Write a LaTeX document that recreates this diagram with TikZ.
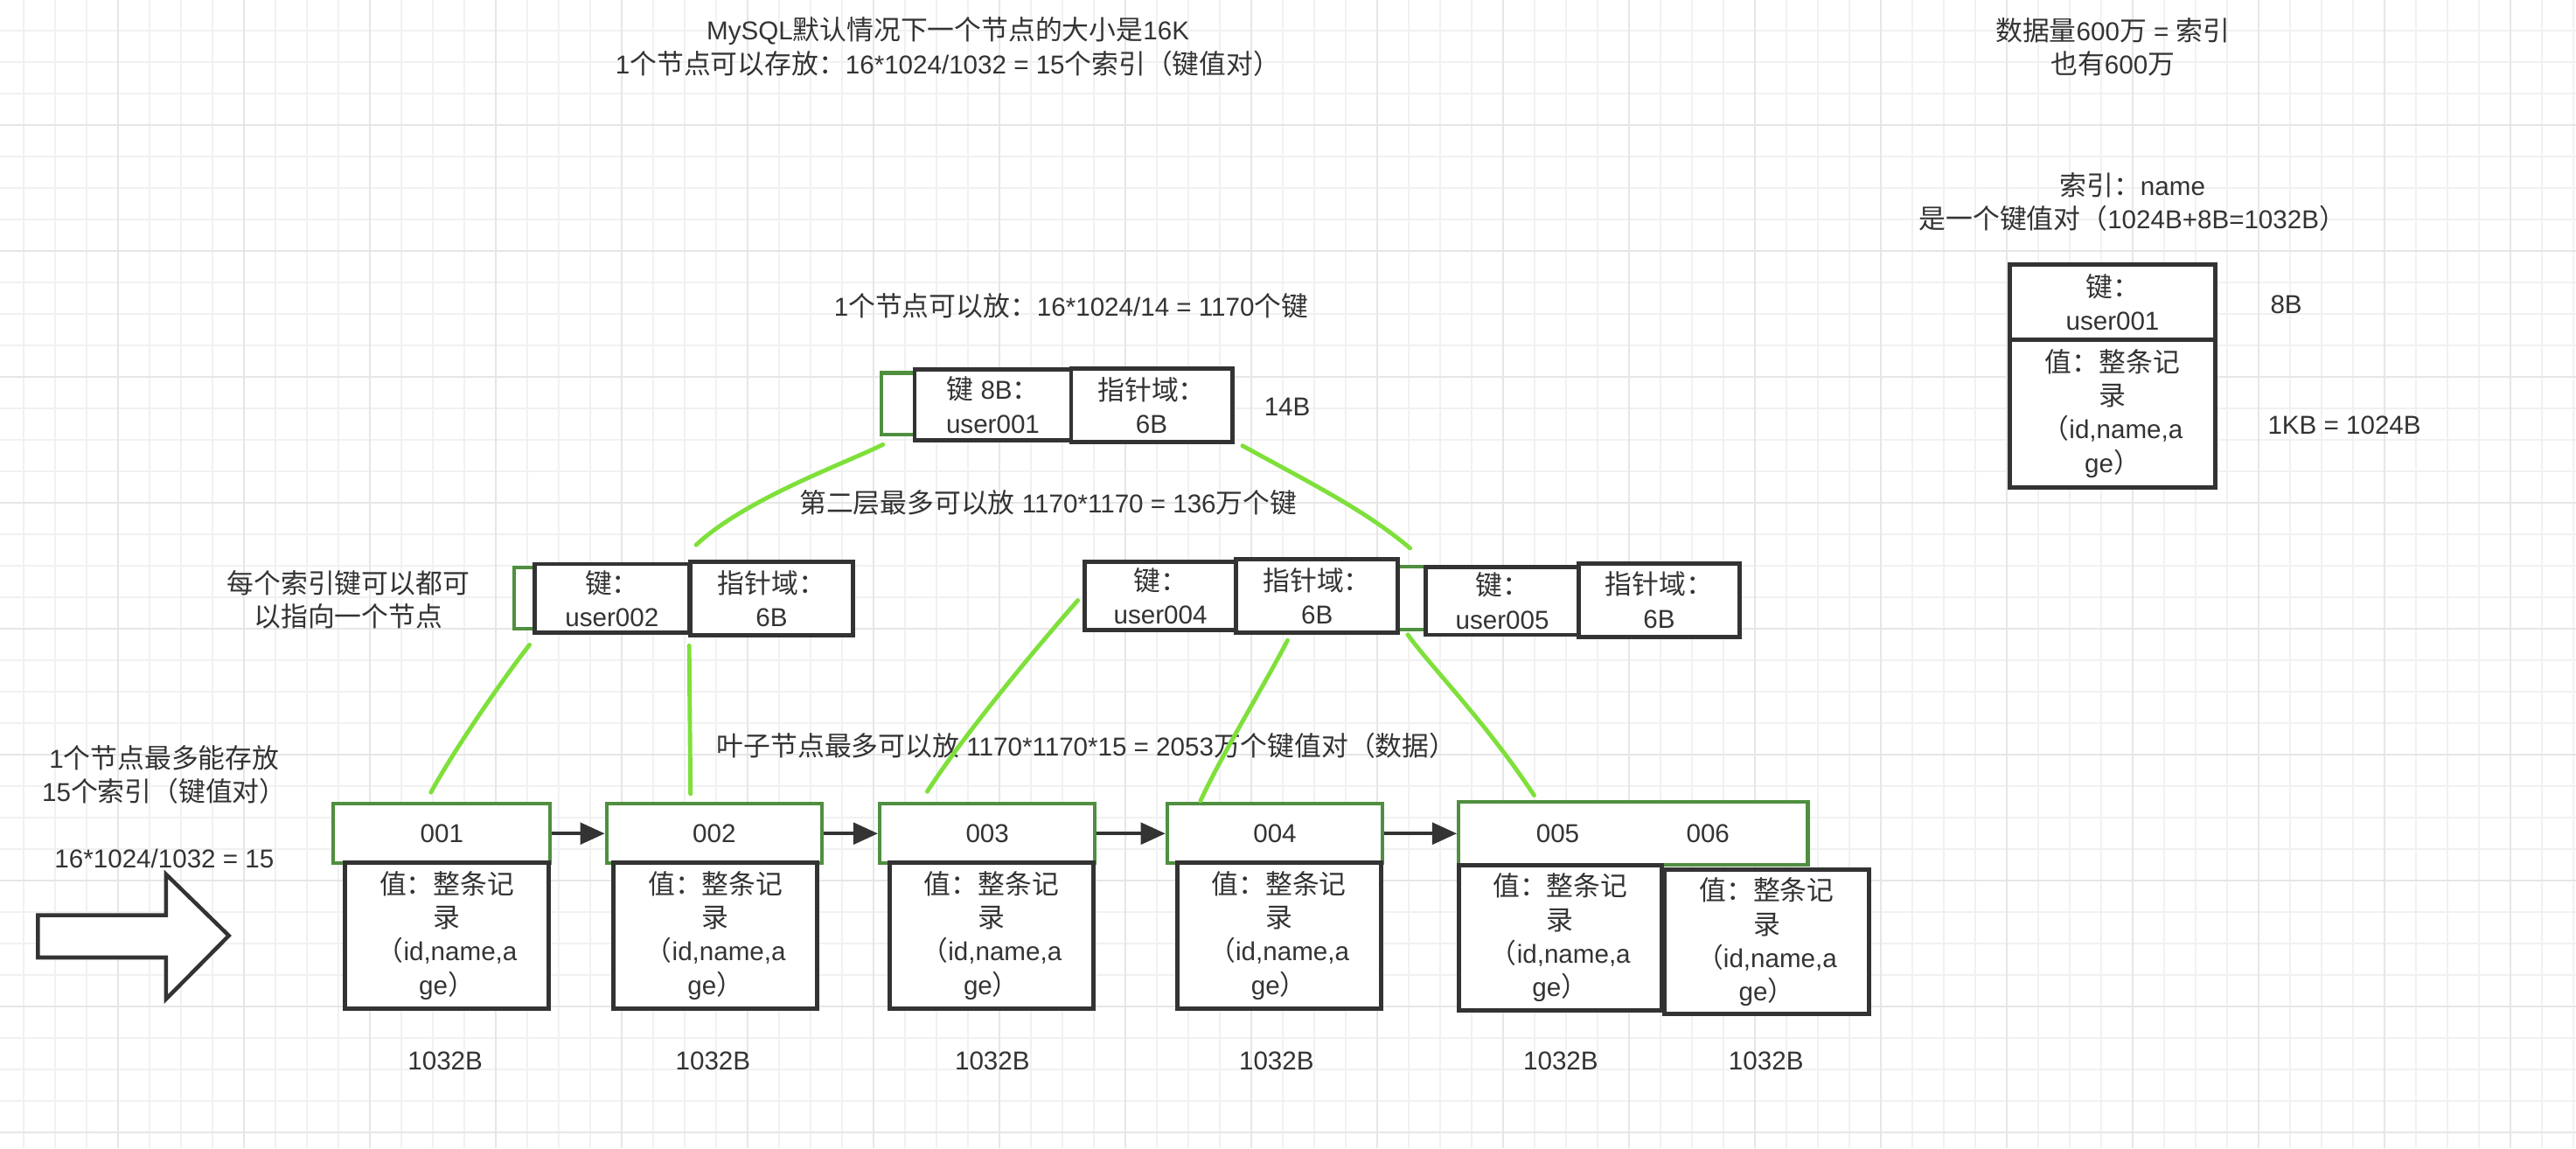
\documentclass[tikz,border=0pt]{standalone}
\usepackage{fontspec}
\setmainfont{Liberation Sans}[Scale=0.96]
\newfontfamily\latinfont{Liberation Sans}[Scale=0.96]
\newfontfamily\cjkfont{Noto Sans CJK SC}
\XeTeXinterchartokenstate=1
\newXeTeXintercharclass\cjkclass
\count255="3000
\loop \XeTeXcharclass\count255=\cjkclass \ifnum\count255<"303F \advance\count255 by 1 \repeat
\count255="4E00
\loop \XeTeXcharclass\count255=\cjkclass \ifnum\count255<"9FFF \advance\count255 by 1 \repeat
\count255="FF00
\loop \XeTeXcharclass\count255=\cjkclass \ifnum\count255<"FFEF \advance\count255 by 1 \repeat
\XeTeXinterchartoks 0 \cjkclass = {\cjkfont}
\XeTeXinterchartoks 4095 \cjkclass = {\cjkfont}
\XeTeXinterchartoks \cjkclass 0 = {\latinfont}
\XeTeXinterchartoks \cjkclass 4095 = {\latinfont}
\usepackage{xcolor}
\usepackage{tikz}
\usetikzlibrary{arrows.meta,calc}
\definecolor{boxgray}{HTML}{333333}
\definecolor{txtgray}{HTML}{333333}
\definecolor{grnedge}{HTML}{4F8F3F}
\definecolor{linkgrn}{HTML}{7EE03A}
\definecolor{gridminor}{HTML}{F1F1F1}
\definecolor{gridmajor}{HTML}{E6E6E6}
\newcommand{\rowtext}{值：整条记\\录\\（id,name,a\\ge）}
\tikzset{
  keybox/.style={draw=boxgray, line width=2.6pt, fill=white, inner sep=0pt, align=center},
  grnbox/.style={draw=grnedge, line width=2.2pt, fill=white, inner sep=0pt},
  link/.style={draw=linkgrn, line width=2.6pt, line cap=round},
  nextptr/.style={draw=boxgray, line width=2.4pt, -{Triangle[length=15pt,width=13pt]}},
  note/.style={inner sep=0pt, align=center}
}

\begin{document}
\begin{tikzpicture}[x=1pt, y=-1pt, every node/.style={font=\fontsize{16.4}{20.4}\selectfont, text=txtgray}]
\useasboundingbox (0,0) rectangle (1568,699);
\fill[white] (0,0) rectangle (1568,699);
\foreach \i in {0,...,81} \draw[gridminor, line width=1pt] ({14.4+19.16*\i},0) -- ++(0,699);
\foreach \j in {0,...,36} \draw[gridminor, line width=1pt] (0,{-0.5+19.16*\j}) -- ++(1568,0);
\foreach \i in {0,...,20} \draw[gridmajor, line width=1.4pt] ({-4.74+76.64*\i},0) -- ++(0,699);
\foreach \j in {0,...,9} \draw[gridmajor, line width=1.4pt] (0,{-0.5+76.64*\j}) -- ++(1568,0);

\node[note] (title) at (577,28.5) {MySQL默认情况下一个节点的大小是16K\\1个节点可以存放：16*1024/1032 = 15个索引（键值对）};
\node[note] (total) at (1286,28.8) {数据量600万 = 索引\\也有600万};
\node[note] (idxname) at (1298,123) {索引：name\\是一个键值对（1024B+8B=1032B）};

\node[keybox, minimum width=124.8, minimum height=45.6] (pairkey) at (1285.9,183.9) {键：\\user001};
\node[keybox, minimum width=124.8, minimum height=89.9] (pairval) at (1285.9,251.65) {\rowtext};
\node[note] (keysize) at (1391.6,185.4) {8B};
\node[note] (kbsize) at (1427,259) {1KB = 1024B};

\node[note] (rootnote) at (652,186) {1个节点可以放：16*1024/14 = 1170个键};
\node[grnbox, minimum width=28.5, minimum height=37.5] (rootgrn) at (550.75,245.75) {};
\node[keybox, minimum width=95.3, minimum height=43] (rootkey) at (604.35,246.5) {键 8B：\\user001};
\node[keybox, minimum width=98, minimum height=44.5] (rootptr) at (701,246.75) {指针域：\\6B};
\node[note] (rootsize) at (783.5,247.5) {14B};

\node[note] (lvlnote) at (638,306) {第二层最多可以放 1170*1170 = 136万个键};
\node[note] (ptrnote) at (212,365) {每个索引键可以都可\\以指向一个节点};

\node[grnbox, minimum width=22.2, minimum height=37.2] (agrn) at (323.9,364.1) {};
\node[keybox, minimum width=94, minimum height=42] (akey) at (372.5,364.3) {键：\\user002};
\node[keybox, minimum width=99.4, minimum height=44.7] (aptr) at (469.7,364.35) {指针域：\\6B};

\node[grnbox, minimum width=38, minimum height=38.2] (bgrn) at (859,364.1) {};
\node[keybox, minimum width=92.4, minimum height=41.6] (bkey) at (706.3,362.8) {键：\\user004};
\node[keybox, minimum width=98.3, minimum height=44.7] (bptr) at (801.65,362.95) {指针域：\\6B};
\node[keybox, minimum width=93.1, minimum height=41.4] (ckey) at (914.45,365.7) {键：\\user005};
\node[keybox, minimum width=97.8, minimum height=44.6] (cptr) at (1009.9,365.3) {指针域：\\6B};

\node[note] (leafnote) at (661.4,454) {叶子节点最多可以放 1170*1170*15 = 2053万个键值对（数据）};
\node[note] (leafcap) at (100,471.5) {1个节点最多能存放\\15个索引（键值对）};
\node[note] (leafcalc) at (100,522.6) {16*1024/1032 = 15};

\node[grnbox, minimum width=132, minimum height=36.1] (l1grn) at (269,507.35) {001};
\node[keybox, minimum width=124, minimum height=88.8] (l1val) at (272,569.4) {\rowtext};
\node[grnbox, minimum width=131, minimum height=36.1] (l2grn) at (434.75,507.35) {002};
\node[keybox, minimum width=124, minimum height=88.8] (l2val) at (435.5,569.4) {\rowtext};
\node[grnbox, minimum width=131, minimum height=36.1] (l3grn) at (601,507.35) {003};
\node[keybox, minimum width=124, minimum height=88.8] (l3val) at (603.5,569.4) {\rowtext};
\node[grnbox, minimum width=131, minimum height=36.1] (l4grn) at (776,507.35) {004};
\node[keybox, minimum width=124, minimum height=88.8] (l4val) at (778.5,569.4) {\rowtext};
\node[grnbox, minimum width=212.5, minimum height=38.3] (l5grn) at (994.15,507.35) {};
\node[note] (k5) at (948.2,507.4) {005};
\node[note] (k6) at (1039.6,507.4) {006};
\node[keybox, minimum width=123.6, minimum height=88.7] (l5val) at (949.7,570.85) {\rowtext};
\node[keybox, minimum width=124.2, minimum height=87.8] (l6val) at (1075.4,573.4) {\rowtext};

\foreach \x/\n in {271/1,434/2,604/3,777/4,950/5,1075/6}
  \node[note] (size\n) at (\x,645.6) {1032B};

\draw[nextptr] (l1grn) -- (l2grn);
\draw[nextptr] (l2grn) -- (l3grn);
\draw[nextptr] (l3grn) -- (l4grn);
\draw[nextptr] (l4grn) -- (l5grn);

\draw[link] ($(rootgrn.south west)+(2,5)$) .. controls +(-23.6,11.7) and +(30,-28) .. ($(aptr.north west)+(5,-9)$);
\draw[link] ($(rootptr.south east)+(5,1)$) .. controls +(40,22) and +(-27,-23) .. ($(bptr.north east)+(6.2,-5.6)$);
\draw[link] ($(akey.south west)+(-1.9,5.9)$) .. controls +(-18.6,23.8) and +(12.7,-23.4) .. ($(l1grn.north)+(-6.7,-5.9)$);
\draw[link] ($(aptr.south west)+(0.8,5)$) -- ($(l2grn.north)+(-14.45,-5)$);
\draw[link] ($(bkey.west)+(-2.7,2.6)$) .. controls +(-17.4,19.6) and +(24.5,-37.9) .. ($(l3grn.north west)+(30,-6.4)$);
\draw[link] ($(bptr.south)+(-17.95,3.2)$) .. controls +(-13.7,26.5) and +(13.2,-28.6) .. ($(l4grn.north west)+(21.3,-0.7)$);
\draw[link] ($(bptr.south east)+(4.8,-0.3)$) .. controls +(14.4,20) and +(-29.9,-45.2) .. ($(l5grn.north west)+(47,-3)$);

\draw[boxgray, line width=2.4pt, fill=white, line join=miter] (23.1,557) -- (101.1,557) -- (101.1,532.2) -- (139.3,569.5) -- (101.1,608.1) -- (101.1,582.8) -- (23.1,582.8) -- cycle;
\end{tikzpicture}
\end{document}
